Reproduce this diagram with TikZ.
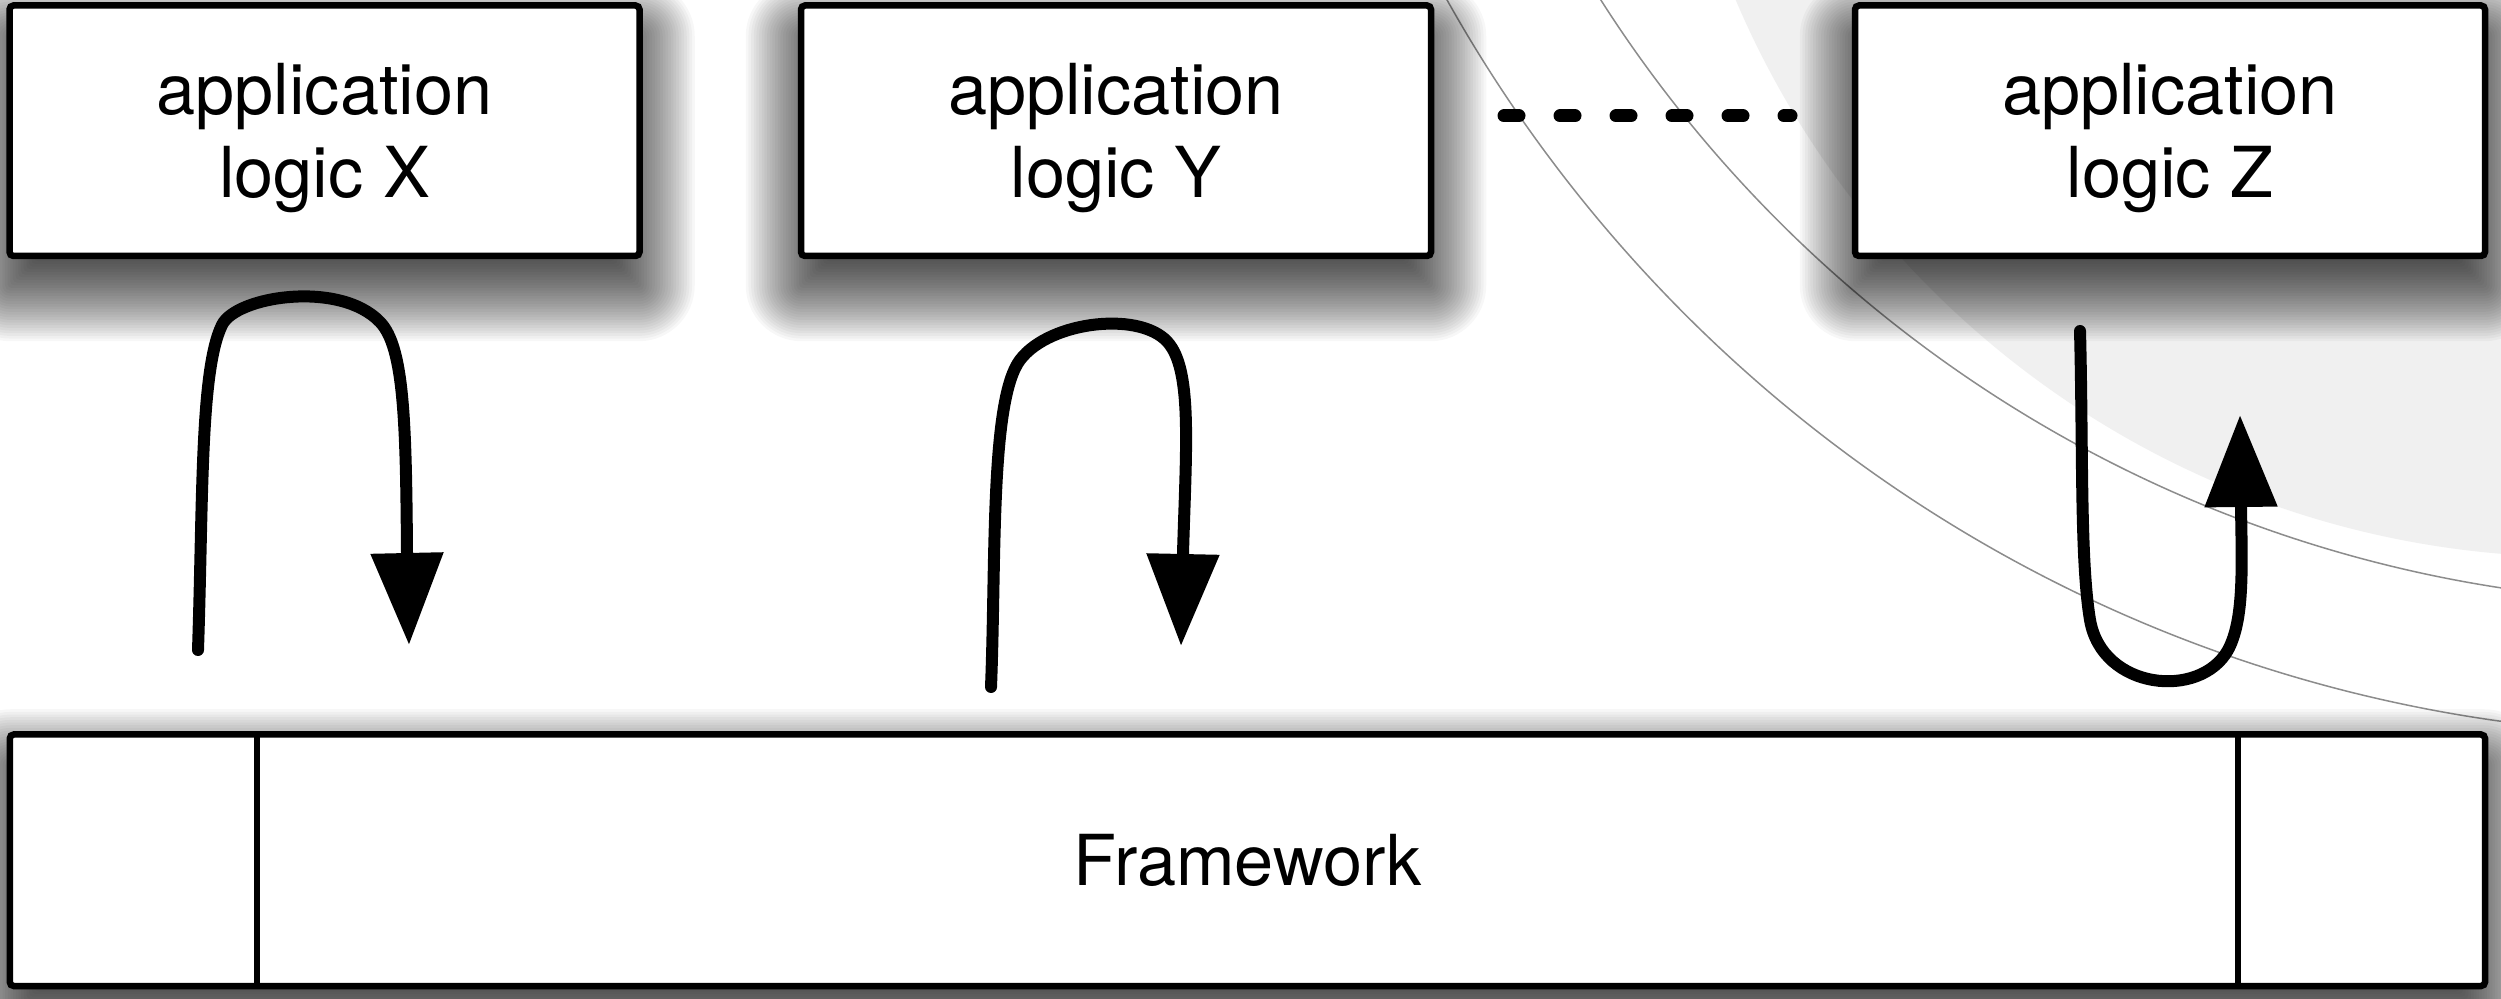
\documentclass[tikz,border=0pt]{standalone}
\usepackage{fontspec}
\setmainfont{TeX Gyre Heros}
\usetikzlibrary{arrows.meta}
\definecolor{discgray}{RGB}{240,240,240}
\definecolor{arcgray}{RGB}{140,140,140}
\pgfdeclarelayer{bg}
\pgfdeclarelayer{shade}
\pgfsetlayers{bg,shade,main}

% soft drop shadow under a named node, built from stacked translucent layers
\newcommand\softshadow[1]{%
  \foreach \k in {0,...,39}{%
    \pgfmathsetmacro\ee{5.2-10.4*\k/39}%
    \pgfmathsetmacro\rc{max(\ee,0)+0.4}%
    \pgfmathsetmacro\dn{-3.0-\ee}%
    \pgfmathsetmacro\up{-3.0+\ee}%
    \fill[black, opacity=0.031, rounded corners=\rc mm]
      ([xshift=-\ee mm, yshift=\dn mm]#1.south west) rectangle
      ([xshift=\ee mm, yshift=\up mm]#1.north east);
  }%
}

\begin{document}
\begin{tikzpicture}[x=0.1mm,y=-0.1mm,
  appbox/.style={draw, line width=0.65mm, rounded corners=0.4mm, fill=white,
      minimum width=63mm, minimum height=25.05mm, inner sep=0pt,
      align=center, text depth=0pt,
      font=\fontsize{20}{23.6}\selectfont},
  fwbox/.style={draw, line width=0.65mm, rounded corners=0.4mm, fill=white,
      minimum width=247.53mm, minimum height=25.15mm, inner sep=0pt,
      text depth=0pt, font=\fontsize{20}{23.6}\selectfont},
  divider/.style={line width=0.65mm},
  flow/.style={line width=1.2mm, line cap=round,
      -{Triangle[length=9.2mm,width=7mm]}},
  dots/.style={line width=1.3mm, line cap=round, dash pattern=on 1.5mm off 4.1mm},
  bgarc/.style={draw=arcgray, line width=0.15mm}]

% canvas
\useasboundingbox (0,0) rectangle (2501,999);
\clip (0,0) rectangle (2501,999);

% background disc and rings in the upper right
\begin{pgfonlayer}{bg}
\fill[white] (0,0) rectangle (2501,999);
\fill[discgray] (2578,-358) circle[radius=91.5mm];
\draw[bgarc] (2700,-700) circle[radius=130.3mm];
\draw[bgarc] (2700,-700) circle[radius=143.5mm];
\end{pgfonlayer}

% application boxes
\node[appbox] (appX) at (324.5,130.75) {application\\logic X};
\node[appbox] (appY) at (1116,130.75) {application\\logic Y};
\node[appbox] (appZ) at (2170,130.75) {application\\logic Z};

% framework bar
\node[fwbox] (fw) at (1247.4,860.25) {Framework};
\coordinate (divL) at (257,0);
\coordinate (divR) at (2238,0);
\draw[divider] (divL |- fw.north) -- (divL |- fw.south);
\draw[divider] (divR |- fw.north) -- (divR |- fw.south);

% shadows of all boxes
\begin{pgfonlayer}{shade}
\softshadow{appX}
\softshadow{appY}
\softshadow{appZ}
\softshadow{fw}
\end{pgfonlayer}

% ellipsis between Y and Z
\coordinate (dotsA) at (1504,116);
\coordinate (dotsB) at (1791,116);
\draw[dots] (dotsA) -- (dotsB);

% control flow loops
\coordinate (xIn) at (198,650);
\coordinate (xOut) at (409,645);
\draw[flow] (xIn) .. controls (203,500) and (200,370) .. (222,325)
  .. controls (236,296) and (340,280) .. (380,322)
  .. controls (404,347) and (406,420) .. (407,553) -- (xOut);

\coordinate (yIn) at (991,687);
\coordinate (yOut) at (1181,646);
\draw[flow] (yIn) .. controls (996,560) and (990,400) .. (1020,360)
  .. controls (1050,320) and (1145,310) .. (1170,345)
  .. controls (1192,375) and (1186,450) .. (1183,553) -- (yOut);

\coordinate (zIn) at (2080,331);
\coordinate (zOut) at (2240,415);
\draw[flow] (zIn) .. controls (2083,450) and (2080,560) .. (2090,620)
  .. controls (2102,690) and (2200,700) .. (2228,650)
  .. controls (2244,620) and (2242,570) .. (2241,508) -- (zOut);
\end{tikzpicture}
\end{document}
